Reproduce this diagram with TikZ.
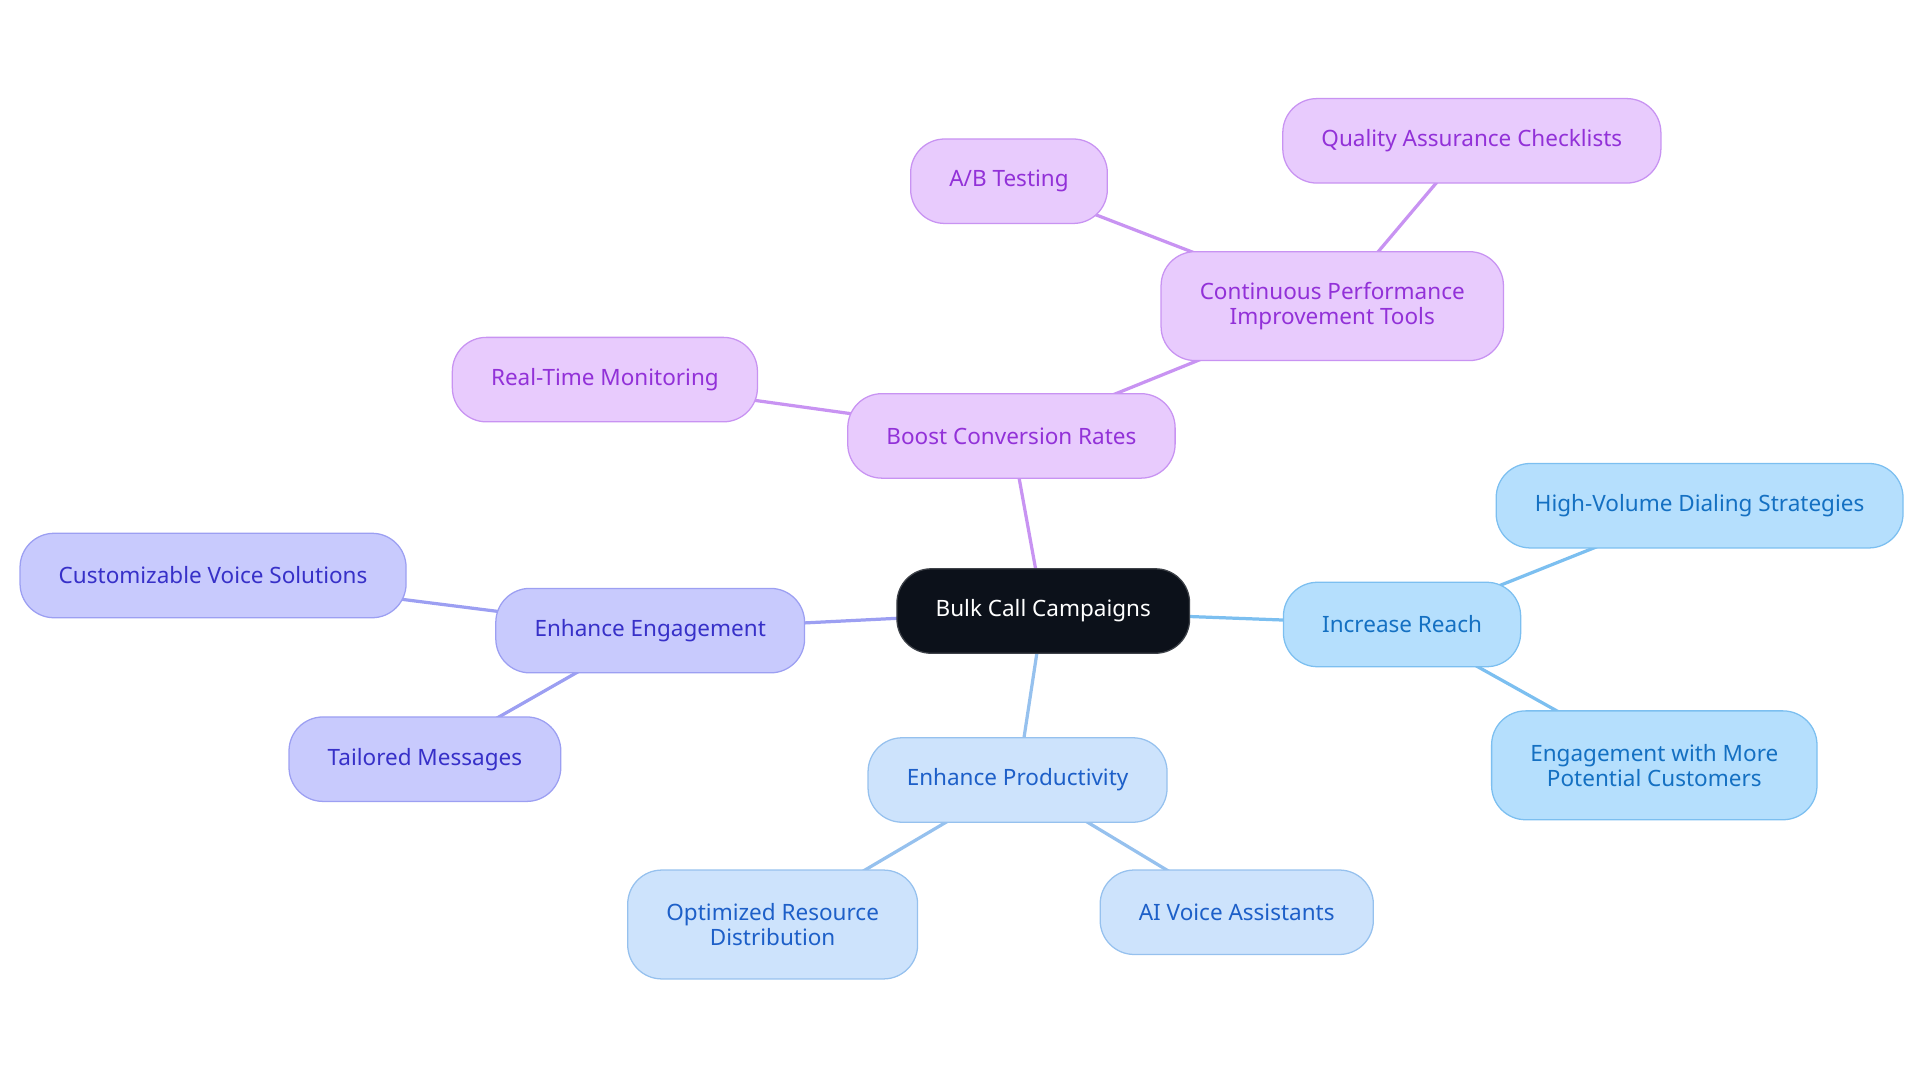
\documentclass[tikz,border=0pt]{standalone}
\usepackage{fontspec}
\setmainfont{Noto Sans}
\usetikzlibrary{backgrounds}
\definecolor{rootfill}{HTML}{0C111A}
\definecolor{purplefill}{HTML}{E8CBFD}
\definecolor{purpleline}{HTML}{C893F2}
\definecolor{purpletext}{HTML}{9231D8}
\definecolor{indigofill}{HTML}{C8CAFD}
\definecolor{indigoline}{HTML}{9C9FF2}
\definecolor{indigotext}{HTML}{3730C8}
\definecolor{bluefill}{HTML}{CDE3FC}
\definecolor{blueline}{HTML}{96C1EE}
\definecolor{bluetext}{HTML}{1D5FC8}
\definecolor{skyfill}{HTML}{B5DFFD}
\definecolor{skyline}{HTML}{7CBFF0}
\definecolor{skytext}{HTML}{1470C2}
\begin{document}
\begin{tikzpicture}[x=0.0306cm, y=-0.0306cm,
    box/.style={rounded corners=0.85cm, line width=0.9pt, align=center,
        inner xsep=27.5pt, inner ysep=2pt, minimum height=2.11cm,
        font=\fontsize{16}{17.7}\selectfont},
    tall/.style={minimum height=2.72cm},
    rootbox/.style={box, fill=rootfill, draw=rootfill!80!white, text=white},
    purplebox/.style={box, fill=purplefill, draw=purpleline, text=purpletext},
    indigobox/.style={box, fill=indigofill, draw=indigoline, text=indigotext},
    bluebox/.style={box, fill=bluefill, draw=blueline, text=bluetext},
    skybox/.style={box, fill=skyfill, draw=skyline, text=skytext},
    link/.style={line width=2.3pt}]
    \useasboundingbox (0,0) rectangle (1568,884.5);

    \node[rootbox] (root) at (852,499) {Bulk Call Campaigns};

    \node[purplebox] (boost) at (826,356) {Boost Conversion Rates};
    \node[purplebox, tall] (tools) at (1088,250) {Continuous Performance\\Improvement Tools};
    \node[purplebox] (checks) at (1202,115) {Quality Assurance Checklists};
    \node[purplebox] (abtest) at (824,148) {A/B Testing};
    \node[purplebox] (monitor) at (494,310) {Real-Time Monitoring};

    \node[indigobox] (engage) at (531,515) {Enhance Engagement};
    \node[indigobox] (voice) at (174,470) {Customizable Voice Solutions};
    \node[indigobox] (tailored) at (347,620) {Tailored Messages};

    \node[skybox] (reach) at (1145,510) {Increase Reach};
    \node[skybox] (dialing) at (1388,413) {High-Volume Dialing Strategies};
    \node[skybox, tall] (customers) at (1351,625) {Engagement with More\\Potential Customers};

    \node[bluebox] (product) at (831,637) {Enhance Productivity};
    \node[bluebox, tall] (resource) at (631,755) {Optimized Resource\\Distribution};
    \node[bluebox] (assist) at (1010,745) {AI Voice Assistants};

    \begin{scope}[on background layer]
        \draw[link, purpleline] (root.center) -- (boost.center);
        \draw[link, purpleline] (boost.center) -- (tools.center);
        \draw[link, purpleline] (tools.center) -- (checks.center);
        \draw[link, purpleline] (tools.center) -- (abtest.center);
        \draw[link, purpleline] (boost.center) -- (monitor.center);

        \draw[link, indigoline] (root.center) -- (engage.center);
        \draw[link, indigoline] (engage.center) -- (voice.center);
        \draw[link, indigoline] (engage.center) -- (tailored.center);

        \draw[link, skyline] (root.center) -- (reach.center);
        \draw[link, skyline] (reach.center) -- (dialing.center);
        \draw[link, skyline] (reach.center) -- (customers.center);

        \draw[link, blueline] (root.center) -- (product.center);
        \draw[link, blueline] (product.center) -- (resource.center);
        \draw[link, blueline] (product.center) -- (assist.center);
    \end{scope}
\end{tikzpicture}
\end{document}
